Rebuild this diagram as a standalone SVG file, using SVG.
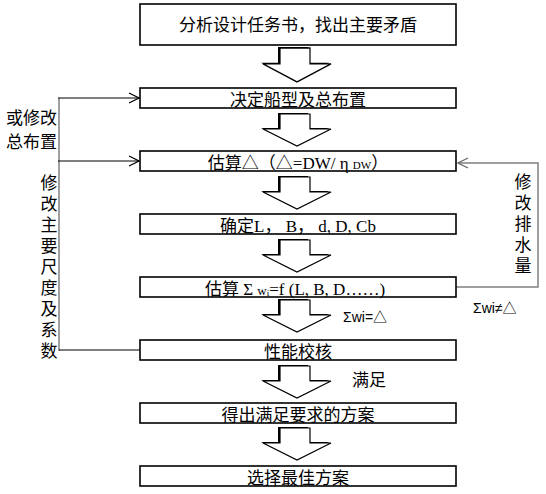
<svg xmlns="http://www.w3.org/2000/svg" width="546" height="494" viewBox="0 0 546 494">
<defs>
<style>
.box{fill:#fff;stroke:#000;stroke-width:1.6}
.bt{font-family:"Liberation Serif","Noto Sans CJK SC",serif;font-size:17px;text-anchor:middle;fill:#000}
.lbl{font-family:"Noto Sans CJK SC",sans-serif;font-size:17px;fill:#000}
.vt{font-family:"Noto Sans CJK SC",sans-serif;font-size:17px;fill:#000;writing-mode:vertical-rl;letter-spacing:4px}
.sm{font-family:"Liberation Sans","Noto Sans CJK SC",sans-serif;font-size:14px;fill:#000}
.ln{fill:none;stroke:#000;stroke-width:1.2}
.lg{fill:none;stroke:#808080;stroke-width:1.5}
.arrs{fill:#000}
.arr{fill:#fff;stroke:#000;stroke-width:1.2}
</style>
<polygon id="barrow" points="280,0 310,0 310,15 331,15 297,32 263,15 280,15"/>
<marker id="open" viewBox="0 0 12 12" refX="11" refY="6" markerWidth="12" markerHeight="12" markerUnits="userSpaceOnUse" orient="auto">
<path d="M1,1 L11,6 L1,11" fill="none" stroke="#000" stroke-width="1.2"/>
</marker>
<marker id="openg" viewBox="0 0 12 12" refX="11" refY="6" markerWidth="12" markerHeight="12" markerUnits="userSpaceOnUse" orient="auto">
<path d="M1,1 L11,6 L1,11" fill="none" stroke="#666" stroke-width="1.2"/>
</marker>
</defs>
<rect width="546" height="494" fill="#fff"/>

<g id="block-arrows">
<g transform="translate(0,48) scale(1,1.06)"><use href="#barrow" class="arrs" transform="translate(-2,-1)"/><use href="#barrow" class="arr"/></g>
<g transform="translate(0,114)"><use href="#barrow" class="arrs" transform="translate(-2,-1)"/><use href="#barrow" class="arr"/></g>
<g transform="translate(0,177)"><use href="#barrow" class="arrs" transform="translate(-2,-1)"/><use href="#barrow" class="arr"/></g>
<g transform="translate(0,240)"><use href="#barrow" class="arrs" transform="translate(-2,-1)"/><use href="#barrow" class="arr"/></g>
<g transform="translate(0,300)"><use href="#barrow" class="arrs" transform="translate(-2,-1)"/><use href="#barrow" class="arr"/></g>
<g transform="translate(0,366)"><use href="#barrow" class="arrs" transform="translate(-2,-1)"/><use href="#barrow" class="arr"/></g>
<g transform="translate(0,428)"><use href="#barrow" class="arrs" transform="translate(-2,-1)"/><use href="#barrow" class="arr"/></g>
</g>

<g id="connectors">
<line class="lg" x1="59" y1="98" x2="59" y2="351"/>
<line class="ln" x1="58" y1="98" x2="139" y2="98" marker-end="url(#open)"/>
<line class="ln" x1="58" y1="161" x2="139" y2="161" marker-end="url(#open)"/>
<line class="ln" x1="59" y1="350" x2="142" y2="350"/>
<polyline class="lg" points="456,287 538,287 538,163 458,163" marker-end="url(#openg)"/>
</g>

<g id="n1"><rect class="box" x="140" y="4" width="316" height="41"/><text class="bt" x="298" y="31">分析设计任务书，找出主要矛盾</text></g>
<g id="n2"><rect class="box" x="140" y="88" width="316" height="20"/><text class="bt" x="298" y="106">决定船型及总布置</text></g>
<g id="n3"><rect class="box" x="140" y="151" width="316" height="20"/><text class="bt" x="298" y="169">估算△（△=DW/ η <tspan font-size="11">DW</tspan>）</text></g>
<g id="n4"><rect class="box" x="140" y="214" width="316" height="20"/><text class="bt" x="298" y="232">确定L， B， d, D, Cb</text></g>
<g id="n5"><rect class="box" x="140" y="277" width="316" height="20"/><text class="bt" x="295" y="295">估算 Σ <tspan font-size="13">w</tspan><tspan font-size="9" dy="1">i</tspan><tspan dy="-1">=f (L, B, D……)</tspan></text></g>
<g id="n6"><rect class="box" x="140" y="340" width="316" height="20"/><text class="bt" x="298" y="358">性能校核</text></g>
<g id="n7"><rect class="box" x="140" y="403" width="316" height="20"/><text class="bt" x="298" y="421">得出满足要求的方案</text></g>
<g id="n8"><rect class="box" x="140" y="466" width="316" height="20"/><text class="bt" x="298" y="484">选择最佳方案</text></g>

<g id="labels">
<text class="lbl" x="6" y="124" font-size="16">或修改</text>
<text class="lbl" x="6" y="148" font-size="16">总布置</text>
<text class="vt" x="49" y="174">修改主要尺度及系数</text>
<text class="vt" x="523" y="173">修改排水量</text>
<text class="sm" x="473" y="313">Σwi≠△</text>
<text class="sm" x="343" y="322">Σwi=△</text>
<text class="lbl" x="352" y="386" font-size="16">满足</text>
</g>
</svg>
